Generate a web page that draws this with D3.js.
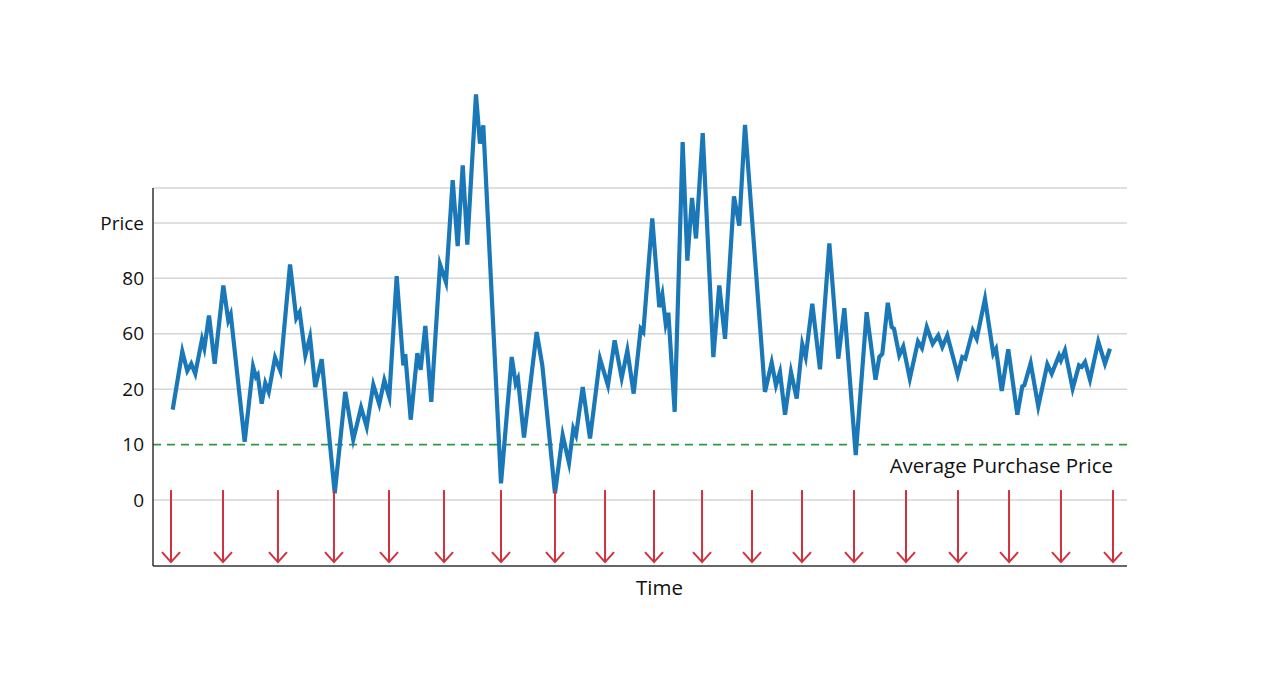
<!DOCTYPE html>
<html>
<head>
<meta charset="utf-8">
<script src="https://cdn.jsdelivr.net/npm/d3@7"></script>
<style>
  body { margin: 0; background: #fff; }
  text { font-family: "Open Sans", sans-serif; fill: #111; }
</style>
</head>
<body>
<div id="chart"></div>
<script>
// y levels are evenly spaced, labels are just names for them
var levelTicks = [0, 1, 2, 3, 4, 5];
var levelLabels = ['0', '10', '20', '60', '80', 'Price'];

// price path: time and level
var times = [2.02, 3.01, 3.52, 3.93, 4.34, 5.03, 5.27, 5.75, 6.33, 7.22, 7.73, 7.98, 9.41, 10.27, 10.57, 10.75,
    11.16, 11.53, 11.88, 12.53, 13.07, 14.07, 14.71, 15.06, 15.64, 16.12, 16.66, 17.32, 18.66, 19.74, 20.56,
    21.36, 21.94, 22.62, 23.23, 23.75, 24.26, 25.02, 25.70, 25.90, 26.46, 27.14, 27.48, 27.96, 28.57, 29.47,
    30.08, 30.77, 31.28, 31.80, 32.27, 33.16, 33.57, 33.91, 35.73, 36.83, 37.24, 37.47, 38.09, 39.39, 39.97,
    41.27, 42.06, 42.71, 43.15, 43.43, 44.12, 44.87, 45.89, 46.71, 47.40, 48.12, 48.70, 49.35, 50.07, 50.34,
    51.26, 51.98, 52.29, 52.64, 52.91, 53.56, 54.38, 54.86, 55.34, 55.75, 56.44, 57.53, 58.14, 58.73, 59.65,
    60.19, 60.78, 62.83, 63.52, 63.96, 64.37, 64.89, 65.50, 66.09, 66.66, 67.01, 67.69, 68.48, 69.44, 70.36,
    70.98, 72.15, 73.27, 74.18, 74.57, 74.88, 75.44, 75.84, 76.08, 76.62, 77.03, 77.70, 78.54, 78.95, 79.44,
    80.05, 80.62, 81.04, 81.55, 82.62, 83.09, 83.40, 84.16, 84.57, 85.42, 86.27, 86.55, 87.14, 87.81, 88.74,
    89.25, 89.46, 90.11, 90.89, 91.82, 92.27, 93.02, 93.22, 93.63, 94.42, 95.07, 95.35, 95.69, 96.20, 97.05,
    97.74, 98.25];
var prices = [1.63, 2.68, 2.33, 2.46, 2.28, 2.90, 2.74, 3.33, 2.46, 3.87, 3.24, 3.35, 1.05, 2.41, 2.22, 2.26,
    1.74, 2.11, 1.95, 2.57, 2.33, 4.25, 3.28, 3.39, 2.61, 2.94, 2.04, 2.54, 0.12, 1.95, 1.09,
    1.67, 1.32, 2.08, 1.73, 2.16, 1.86, 4.04, 2.43, 2.63, 1.45, 2.65, 2.35, 3.14, 1.77, 4.25,
    3.93, 5.77, 4.58, 6.04, 4.61, 7.32, 6.43, 6.76, 0.30, 2.58, 2.10, 2.19, 1.13, 3.03, 2.43,
    0.12, 1.17, 0.67, 1.29, 1.17, 2.04, 1.11, 2.55, 2.07, 2.88, 2.20, 2.70, 1.92, 3.09, 3.03,
    5.08, 3.48, 3.71, 3.18, 3.38, 1.59, 6.46, 4.32, 5.45, 4.72, 6.62, 2.58, 3.87, 2.91, 5.48,
    4.95, 6.77, 1.95, 2.48, 2.07, 2.31, 1.54, 2.31, 1.83, 2.81, 2.58, 3.54, 2.36, 4.63, 2.55,
    3.46, 0.81, 3.39, 2.17, 2.58, 2.64, 3.56, 3.12, 3.09, 2.61, 2.77, 2.19, 2.86, 2.74, 3.12,
    2.82, 2.97, 2.76, 2.97, 2.26, 2.58, 2.55, 3.06, 2.91, 3.63, 2.64, 2.73, 1.97, 2.72, 1.54,
    2.05, 2.07, 2.47, 1.69, 2.45, 2.28, 2.61, 2.52, 2.70, 2.01, 2.43, 2.40, 2.49, 2.17, 2.86,
    2.46, 2.73];

// purchase times (red arrows)
var buyTimes = [1.85, 7.19, 12.83, 18.58, 24.23, 29.88, 35.73, 41.27, 46.41, 51.44, 56.37, 61.50, 66.63,
    71.97, 77.31, 82.65, 87.89, 93.22, 98.56];
var avgLevel = [1];
var arrowTop = 0.18, arrowTip = -1.12;

var svgWidth = 1280;
var svgHeight = 698;

var margin = { top: 188, bottom: 132, left: 153, right: 153 };
var width = svgWidth - margin.left - margin.right;
var height = svgHeight - margin.top - margin.bottom;

var svg = d3.select('#chart')
    .append('svg')
    .attr('width', svgWidth)
    .attr('height', svgHeight);

var chartGroup = svg.append('g')
    .attr('transform', `translate(${margin.left}, ${margin.top})`);

var xScale = d3.scaleLinear()
    .domain([0, 100])
    .range([0, width]);

var yScale = d3.scaleLinear()
    .domain([-1.19, 5.63])
    .range([height, 0]);

// grid lines
chartGroup.selectAll('.grid')
    .data(levelTicks.filter(d => d !== 1).concat([5.63]))
    .enter()
    .append('line')
    .attr('x1', 0)
    .attr('x2', width)
    .attr('y1', d => yScale(d))
    .attr('y2', d => yScale(d))
    .attr('stroke', '#d6d6d6')
    .attr('stroke-width', 1.5);

// average purchase price
chartGroup.selectAll('.avg')
    .data(avgLevel)
    .enter()
    .append('line')
    .attr('x1', 0)
    .attr('x2', width)
    .attr('y1', d => yScale(d))
    .attr('y2', d => yScale(d))
    .attr('stroke', '#2e9a3e')
    .attr('stroke-width', 1.6)
    .attr('stroke-dasharray', '8,6');

chartGroup.append('text')
    .attr('x', xScale(98.56))
    .attr('y', yScale(avgLevel[0]) + 28)
    .attr('text-anchor', 'end')
    .style('font-size', '20.5px')
    .text('Average Purchase Price');

// y axis labels
var leftAxis = d3.axisLeft(yScale)
    .tickValues(levelTicks)
    .tickFormat((d, i) => levelLabels[i])
    .tickSize(0)
    .tickPadding(9);

var yAxis = chartGroup.append('g').call(leftAxis);
yAxis.select('.domain').remove();
yAxis.selectAll('text')
    .style('font-family', '"Open Sans", sans-serif')
    .style('font-size', '19px')
    .attr('fill', '#111');

// axis lines
chartGroup.append('line')
    .attr('x1', 0).attr('x2', 0)
    .attr('y1', 0).attr('y2', height)
    .attr('stroke', '#333').attr('stroke-width', 1.5);
chartGroup.append('line')
    .attr('x1', 0).attr('x2', width)
    .attr('y1', height).attr('y2', height)
    .attr('stroke', '#333').attr('stroke-width', 1.5);

// price line
var points = times.map((t, i) => [t, prices[i]]);
var line = d3.line()
    .x(d => xScale(d[0]))
    .y(d => yScale(d[1]));

chartGroup.append('path')
    .datum(points)
    .attr('d', line)
    .attr('fill', 'none')
    .attr('stroke', '#1a78b8')
    .attr('stroke-width', 4.2)
    .attr('stroke-linejoin', 'miter')
    .attr('stroke-miterlimit', 6);

// buy arrows
var arrows = chartGroup.selectAll('.arrow')
    .data(buyTimes)
    .enter()
    .append('g')
    .attr('stroke', '#d2303c')
    .attr('stroke-width', 2)
    .attr('fill', 'none');

arrows.append('line')
    .attr('x1', d => xScale(d))
    .attr('x2', d => xScale(d))
    .attr('y1', yScale(arrowTop))
    .attr('y2', yScale(arrowTip));

arrows.append('path')
    .attr('d', d => `M${xScale(d) - 9},${yScale(arrowTip) - 10} L${xScale(d)},${yScale(arrowTip)} L${xScale(d) + 9},${yScale(arrowTip) - 10}`);

// x axis title
chartGroup.append('text')
    .attr('x', width / 2 + 19.5)
    .attr('y', height + 29)
    .attr('text-anchor', 'middle')
    .style('font-size', '20.5px')
    .text('Time');
</script>
</body>
</html>
